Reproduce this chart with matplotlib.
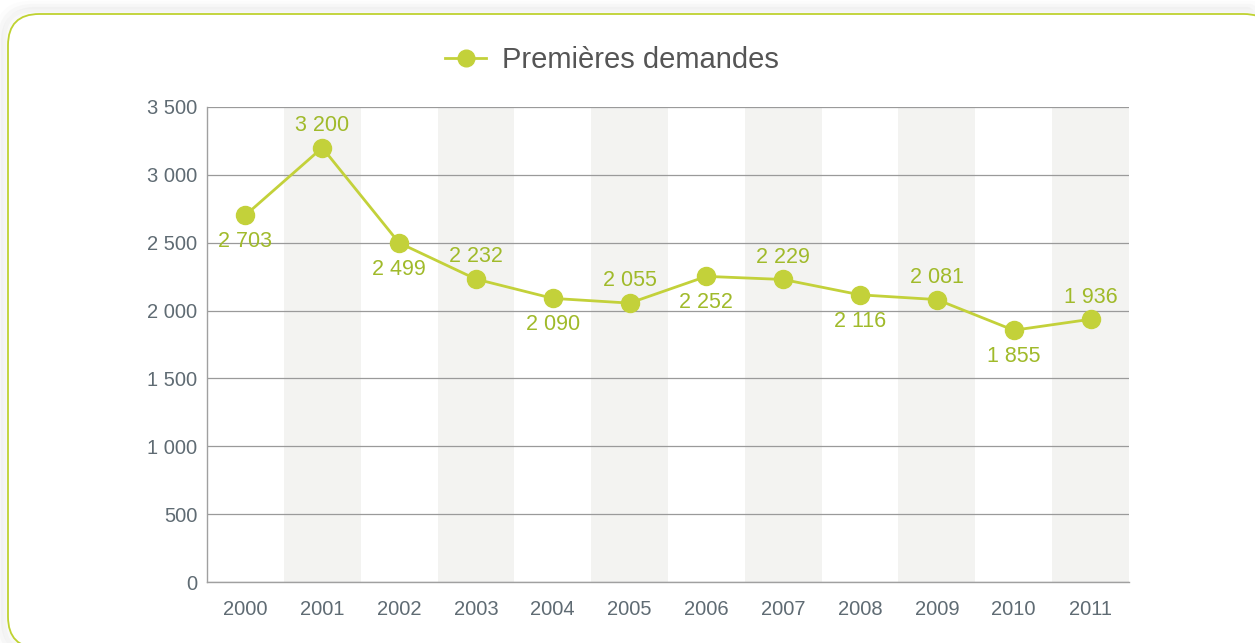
import numpy as np
import matplotlib.pyplot as plt
from matplotlib.patches import FancyBboxPatch
from matplotlib.lines import Line2D

# données
annees = ['2000', '2001', '2002', '2003', '2004', '2005',
          '2006', '2007', '2008', '2009', '2010', '2011']
demandes = [2703, 3200, 2499, 2232, 2090, 2055, 2252, 2229, 2116, 2081, 1855, 1936]
y_ticks = [0, 500, 1000, 1500, 2000, 2500, 3000, 3500]
serie_label = 'Premières demandes'

vert = '#c3d13a'
vert_txt = '#a0ba2a'
gris_txt = '#5f6b73'

plt.rcParams['font.family'] = ['Liberation Sans', 'DejaVu Sans']

fig = plt.figure(figsize=(12.55, 6.43), dpi=100)
W, H = 1255, 643

# cadre arrondi avec ombre légère
for i, a in enumerate([0.05, 0.035, 0.02]):
    d = (i + 1) * 3
    sh = FancyBboxPatch(((8 - d) / W, (643 - 648 - d) / H), (1275 - 8 + 2 * d) / W, (648 - 14 + 2 * d) / H,
                        boxstyle='round,pad=0,rounding_size=0.025', transform=fig.transFigure,
                        facecolor='none', edgecolor='#888888', alpha=a, linewidth=6, zorder=-3,
                        mutation_aspect=W / H)
    fig.patches.append(sh)
cadre = FancyBboxPatch((8 / W, (643 - 648) / H), (1275 - 8) / W, (648 - 14) / H,
                       boxstyle='round,pad=0,rounding_size=0.025', transform=fig.transFigure,
                       facecolor='white', edgecolor='#bfd230', linewidth=1.3, zorder=-2,
                       mutation_aspect=W / H)
fig.patches.append(cadre)

ax = fig.add_axes([207 / W, 1 - 582 / H, (1129 - 207) / W, (582 - 107) / H])
ax.set_facecolor('none')
x = np.arange(len(annees))

# bandes grises une année sur deux
for i in x[1::2]:
    ax.axvspan(i - 0.5, i + 0.5, color='#f3f3f1', zorder=0, linewidth=0)

ax.set_xlim(-0.5, len(annees) - 0.5)
ax.set_ylim(0, 3500)
ax.set_yticks(y_ticks)
ax.set_yticklabels([f'{v:,}'.replace(',', ' ') for v in y_ticks])
ax.set_xticks(x)
ax.set_xticklabels(annees)
ax.yaxis.grid(True, color='#9a9a9a', linewidth=0.9, zorder=1)
ax.set_axisbelow(True)
ax.tick_params(axis='both', length=0, labelsize=14.5, colors=gris_txt)
ax.tick_params(axis='x', pad=13)
ax.tick_params(axis='y', pad=7)
for s in ['top', 'right']:
    ax.spines[s].set_visible(False)
for s in ['left', 'bottom']:
    ax.spines[s].set_color('#a0a0a0')
    ax.spines[s].set_linewidth(1.0)

ax.plot(x, demandes, '-o', color=vert, linewidth=2, markersize=13, zorder=3, clip_on=False)

# étiquettes alternées dessous / dessus
for i, v in enumerate(demandes):
    txt = f'{v:,}'.replace(',', ' ')
    if i % 2 == 0:
        ax.annotate(txt, (i, v), xytext=(0, -19), textcoords='offset points',
                    ha='center', va='center', fontsize=15.5, color=vert_txt, zorder=4)
    else:
        ax.annotate(txt, (i, v), xytext=(0, 16), textcoords='offset points',
                    ha='center', va='center', fontsize=15.5, color=vert_txt, zorder=4)

# légende en haut
handle = Line2D([], [], color=vert, marker='o', markersize=12, linewidth=2)
fig.legend([handle], [serie_label], loc='center', bbox_to_anchor=(612 / W, 1 - 60 / H),
           frameon=False, fontsize=21, handlelength=1.4, handletextpad=0.55,
           labelcolor='#555555')

fig.savefig('out.png', dpi=100)
